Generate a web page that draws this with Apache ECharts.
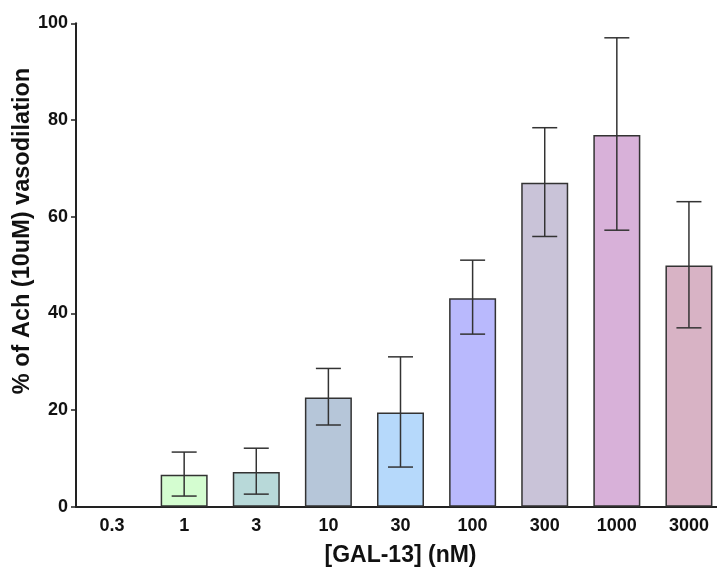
<!DOCTYPE html>
<html>
<head>
<meta charset="utf-8">
<script src="https://cdn.jsdelivr.net/npm/echarts@6/dist/echarts.min.js"></script>
<style>
  html, body { margin: 0; padding: 0; background: #fff; }
  #chart { width: 717px; height: 568px; }
</style>
</head>
<body>
<div id="chart"></div>
<script>
// GAL-13 concentrations (nM)
const categories = ['0.3', '1', '3', '10', '30', '100', '300', '1000', '3000'];
// Mean vasodilation, % of the 10 uM ACh response
const means = [0, 6.6, 7.2, 22.6, 19.5, 43.1, 67.0, 76.9, 49.9];
// Error bar ends
const errUpper = [null, 11.3, 12.1, 28.6, 31.0, 51.0, 78.4, 97.0, 63.1];
const errLower = [null, 2.2, 2.6, 16.9, 8.2, 35.7, 55.9, 57.2, 37.0];
// Bar fills
const barColors = ['#d4fdd0', '#d4fdd0', '#b8d9d9', '#b6c6d9', '#b6d9fb', '#b9b9fd', '#c9c3d8', '#d8b1d9', '#d8b3c5'];
const yTicks = { min: 0, max: 100, step: 20 };

const FONT = '"Liberation Sans", Arial, sans-serif';
const INK = '#111';

const chart = echarts.init(document.getElementById('chart'), null, { renderer: 'canvas' });

const errData = categories.map((c, i) =>
  errUpper[i] == null ? [i, '-', '-'] : [i, errLower[i], errUpper[i]]
);

chart.setOption({
  animation: false,
  // plot area runs slightly past the right edge of the canvas
  grid: {
    left: 76, width: 649, top: 23.3, height: 483.4,
    containLabel: false,
    outerBoundsMode: 'none'
  },
  xAxis: {
    type: 'category',
    data: categories,
    boundaryGap: true,
    name: '[GAL-13] (nM)',
    nameLocation: 'middle',
    nameGap: 37,
    nameTextStyle: { fontFamily: FONT, fontWeight: 'bold', fontSize: 23, color: INK },
    axisLine: { lineStyle: { color: '#222', width: 2 } },
    axisTick: { alignWithLabel: true, length: 5, lineStyle: { color: '#222', width: 1.5 } },
    axisLabel: { fontFamily: FONT, fontWeight: 'bold', fontSize: 18, color: INK, margin: 10 },
    splitLine: { show: false }
  },
  yAxis: {
    type: 'value',
    min: yTicks.min,
    max: yTicks.max,
    interval: yTicks.step,
    axisLine: { show: true, lineStyle: { color: '#222', width: 2 } },
    axisTick: { show: true, length: 5, lineStyle: { color: '#222', width: 1.5 } },
    axisLabel: { fontFamily: FONT, fontWeight: 'bold', fontSize: 18, color: INK, margin: 8 },
    splitLine: { show: false }
  },
  graphic: [{
    type: 'text',
    x: 23,
    y: 231,
    rotation: Math.PI / 2,
    style: {
      text: '% of Ach (10uM) vasodilation',
      fontFamily: FONT,
      fontWeight: 'bold',
      fontSize: 23.5,
      fill: INK,
      align: 'center',
      verticalAlign: 'middle'
    }
  }],
  series: [
    {
      type: 'bar',
      barWidth: 47,
      data: means.map((v, i) => ({
        value: v,
        itemStyle: {
          color: barColors[i],
          borderColor: v === 0 ? 'transparent' : '#333',
          borderWidth: v === 0 ? 0 : 1.5
        }
      })),
      z: 2
    },
    {
      type: 'custom',
      z: 3,
      data: errData,
      encode: { x: 0, y: [1, 2] },
      renderItem: function (params, api) {
        const lo = api.value(1), hi = api.value(2);
        if (isNaN(lo) || isNaN(hi)) return null;
        const idx = api.value(0);
        const pLo = api.coord([idx, lo]);
        const pHi = api.coord([idx, hi]);
        const half = 12.5;
        const style = { stroke: '#333', lineWidth: 1.5 };
        return {
          type: 'group',
          children: [
            { type: 'line', shape: { x1: pHi[0], y1: pHi[1], x2: pLo[0], y2: pLo[1] }, style },
            { type: 'line', shape: { x1: pHi[0] - half, y1: pHi[1], x2: pHi[0] + half, y2: pHi[1] }, style },
            { type: 'line', shape: { x1: pLo[0] - half, y1: pLo[1], x2: pLo[0] + half, y2: pLo[1] }, style }
          ]
        };
      }
    }
  ]
});
</script>
</body>
</html>
